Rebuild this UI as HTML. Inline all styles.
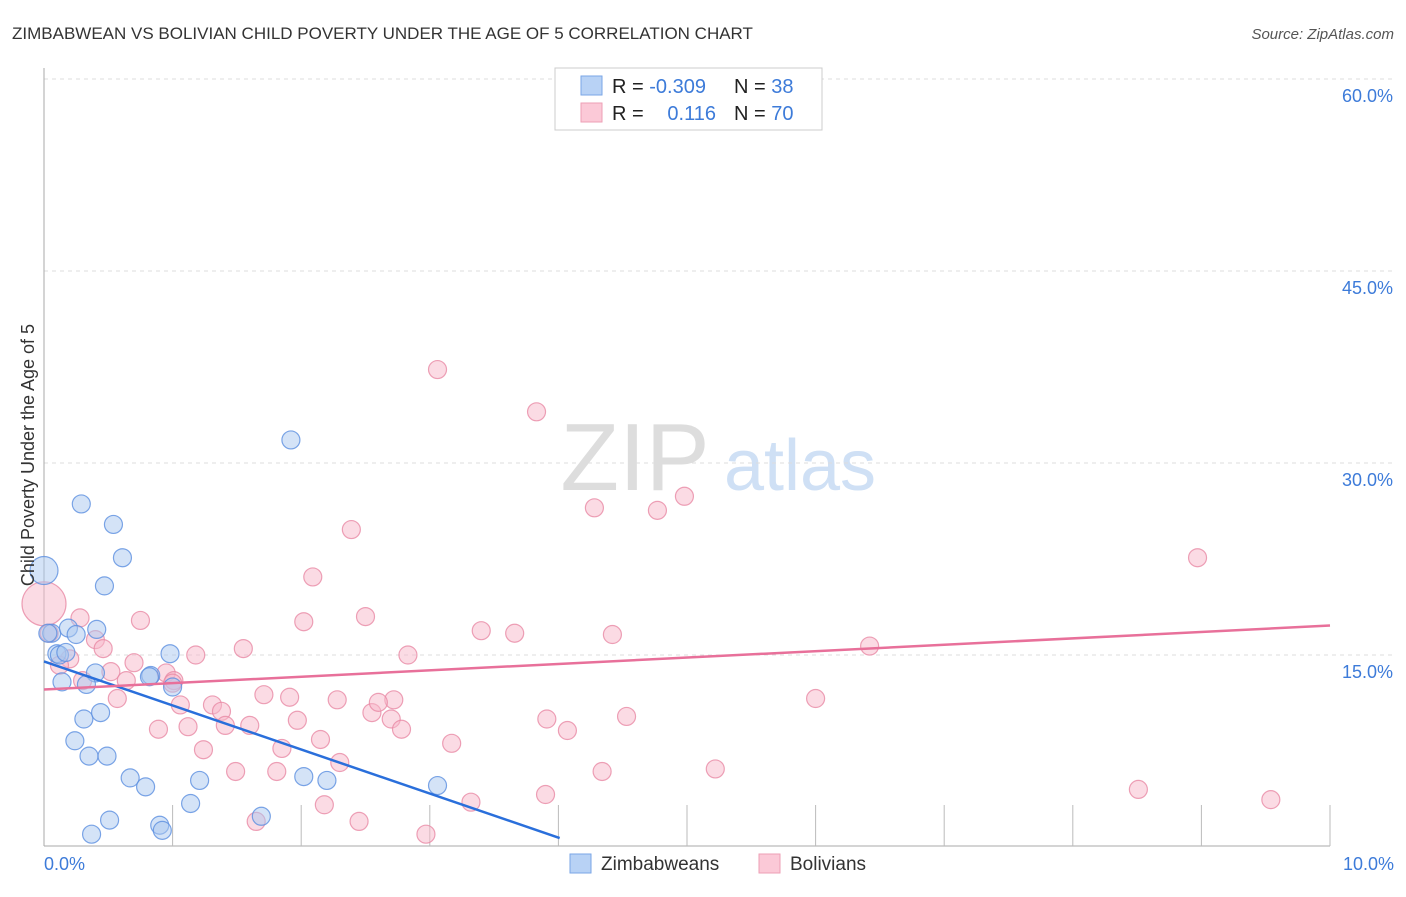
<!DOCTYPE html>
<html><head><meta charset="utf-8"><style>
body{margin:0;background:#fff;font-family:"Liberation Sans",sans-serif;}
svg text{font-family:"Liberation Sans",sans-serif;}
</style></head><body>
<svg id="c" width="1406" height="892" xmlns="http://www.w3.org/2000/svg">
<text x="12" y="39" font-size="17" fill="#333">ZIMBABWEAN VS BOLIVIAN CHILD POVERTY UNDER THE AGE OF 5 CORRELATION CHART</text>
<text x="1394" y="39" font-size="15" fill="#555" font-style="italic" text-anchor="end">Source: ZipAtlas.com</text>
<g>
<text x="635" y="490" font-size="96" fill="#ddd" font-family="Liberation Serif,serif" text-anchor="middle">ZIP</text>
<text x="800" y="490" font-size="72" fill="#cfe0f5" text-anchor="middle">atlas</text>
</g>
<g id="grid"></g><g id="axes"></g>
<g id="pts"></g><g id="lines"></g>
<text transform="translate(34,455) rotate(-90)" font-size="18" fill="#333" text-anchor="middle">Child Poverty Under the Age of 5</text>
<g>
<rect x="555" y="68" width="267" height="62" fill="#fff" stroke="#ccc"/>
<rect x="581" y="76" width="21" height="19" fill="#b8d2f5" stroke="#7aa6e6"/>
<rect x="581" y="103" width="21" height="19" fill="#fbc9d7" stroke="#ee9fb6"/>
<text x="612" y="93" font-size="20" fill="#222">R = <tspan fill="#3d7bd9">-0.309</tspan></text>
<text x="734" y="93" font-size="20" fill="#222">N = <tspan fill="#3d7bd9"> 38</tspan></text>
<text x="612" y="120" font-size="20" fill="#222">R = </text>
<text x="716" y="120" font-size="20" fill="#3d7bd9" text-anchor="end">0.116</text>
<text x="734" y="120" font-size="20" fill="#222">N = <tspan fill="#3d7bd9">70</tspan></text>
</g>
<g>
<rect x="570" y="854" width="21" height="19" fill="#b8d2f5" stroke="#7aa6e6"/>
<text x="601" y="870" font-size="19" fill="#333">Zimbabweans</text>
<rect x="759" y="854" width="21" height="19" fill="#fbc9d7" stroke="#ee9fb6"/>
<text x="790" y="870" font-size="19" fill="#333">Bolivians</text>
</g>
</svg>
<script>
const yTicks=[15,30,45,60];
const xTickLabels=["0.0%","10.0%"];
const blueX=[0,0.29,0.54,0.61,0.47,1.92,0.06,0.19,0.25,0.41,0.1,0.12,0.98,0.14,0.40,0.33,0.83,1.0,0.31,0.44,0.24,0.35,0.49,0.67,0.79,1.21,2.02,2.20,3.06,1.14,1.69,0.51,0.9,0.92,0.37,0.17,0.03,0.82];
const blueY=[21.6,26.8,25.2,22.6,20.4,31.8,16.7,17.1,16.6,17.0,15.1,15.0,15.1,12.9,13.6,12.7,13.4,12.5,10.0,10.5,8.3,7.1,7.1,5.4,4.7,5.2,5.5,5.2,4.8,3.4,2.4,2.1,1.7,1.3,1.0,15.2,16.7,13.3];
const pinkX=[0,3.06,3.83,4.98,4.28,4.77,8.97,2.39,2.09,2.50,2.02,0.75,0.28,3.40,3.66,4.42,6.42,1.55,1.18,2.83,0.40,0.46,0.2,0.7,0.52,0.95,0.64,1.01,1.71,1.91,2.28,2.72,6.0,0.57,1.06,1.31,1.38,2.55,2.70,1.97,3.91,4.53,1.60,1.41,0.89,1.12,2.78,4.07,2.15,3.17,1.24,1.85,2.30,1.49,1.81,4.34,5.22,8.51,9.54,3.90,3.32,2.18,1.65,2.45,2.97,0.12,0.04,0.3,1.0,2.6];
const pinkY=[19.0,37.3,34.0,27.4,26.5,26.3,22.6,24.8,21.1,18.0,17.6,17.7,17.9,16.9,16.7,16.6,15.7,15.5,15.0,15.0,16.2,15.5,14.7,14.4,13.7,13.6,13.0,13.0,11.9,11.7,11.5,11.5,11.6,11.6,11.1,11.1,10.6,10.5,10.0,9.9,10.0,10.2,9.5,9.5,9.2,9.4,9.2,9.1,8.4,8.1,7.6,7.7,6.6,5.9,5.9,5.9,6.1,4.5,3.7,4.1,3.5,3.3,2.0,2.0,1.0,14.2,16.7,13.0,12.8,11.3];
const blueTrend=[[0,14.5],[4.01,0.7]];
const pinkTrend=[[0,12.3],[10,17.3]];
const X=v=>44+v*128.6, Y=v=>847-v*12.8;
const NS="http://www.w3.org/2000/svg";
function mk(t,a,p){const e=document.createElementNS(NS,t);for(const k in a)e.setAttribute(k,a[k]);p.appendChild(e);return e;}
const grid=document.getElementById('grid'),axes=document.getElementById('axes'),pts=document.getElementById('pts'),lines=document.getElementById('lines');
yTicks.forEach(t=>{
 const l=mk('line',{x1:44,x2:1394,y1:Y(t),y2:Y(t),stroke:'#ddd','stroke-dasharray':'4,4'},grid);
 
 
 const tx=mk('text',{x:1393,y:Y(t)+23,'font-size':18,fill:'#3d7bd9','text-anchor':'end'},grid);
 tx.textContent=t.toFixed(1)+'%';
 
 
});
const ya=mk('line',{x1:44,x2:44,y1:68,y2:846,stroke:'#aaa'},axes);


const xa=mk('line',{x1:44,x2:1330,y1:846,y2:846,stroke:'#aaa'},axes);


for(let i=1;i<=10;i++){
 const tk=mk('line',{x1:X(i),x2:X(i),y1:805,y2:846,stroke:'#bbb'},axes);
 
 
}
xTickLabels.forEach((s,i)=>{
 const tx=mk('text',{x:i?1394:44,y:870,'font-size':18,fill:'#3d7bd9','text-anchor':i?'end':'start'},axes);
 tx.textContent=s;
 
 
});
function dots(xs,ys,fill,stroke,name){
 xs.forEach((x,i)=>{
  let r=9; if(i===0) r=(name==='bolivian-point')?22:14;
  const c=mk('circle',{cx:X(x),cy:Y(ys[i]),r:r,fill:fill,'fill-opacity':0.5,stroke:stroke,'stroke-opacity':0.8,'stroke-width':1.2},pts);
  
  
 });
}
dots(pinkX,pinkY,'#f7b8c9','#e88aa5','bolivian-point');
dots(blueX,blueY,'#a9c8f0','#5b8fe0','zimbabwean-point');
const bl=mk('line',{x1:X(blueTrend[0][0]),y1:Y(blueTrend[0][1]),x2:X(blueTrend[1][0]),y2:Y(blueTrend[1][1]),stroke:'#2a6fdb','stroke-width':2.5},lines);


const pl=mk('line',{x1:X(pinkTrend[0][0]),y1:Y(pinkTrend[0][1]),x2:X(pinkTrend[1][0]),y2:Y(pinkTrend[1][1]),stroke:'#e8709a','stroke-width':2.5},lines);


</script>
</body></html>
